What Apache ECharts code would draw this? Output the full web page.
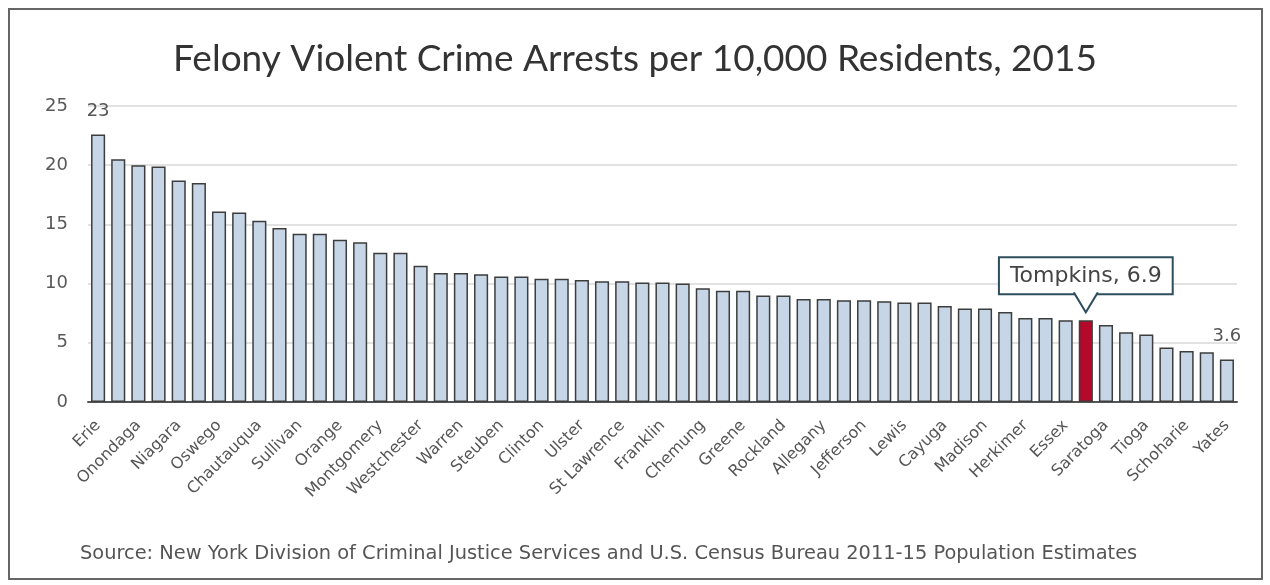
<!DOCTYPE html>
<html>
<head>
<meta charset="utf-8">
<script src="https://cdn.jsdelivr.net/npm/echarts@6/dist/echarts.min.js"></script>
<style>
html,body{margin:0;padding:0;background:#fff;}
#chart{width:1270px;height:585px;}
</style>
</head>
<body>
<div id="chart"></div>
<script>
const counties = ["Erie","Albany","Onondaga","Monroe","Niagara","Schenectady","Oswego","Broome","Chautauqua","Rensselaer","Sullivan","Oneida","Orange","Fulton","Montgomery","Cortland","Westchester","Chenango","Warren","Cattaraugus","Steuben","Orleans","Clinton","Dutchess","Ulster","Genesee","St Lawrence","Columbia","Franklin","Wayne","Chemung","Seneca","Greene","Wyoming","Rockland","Ontario","Allegany","Otsego","Jefferson","Suffolk","Lewis","Delaware","Cayuga","Washington","Madison","Livingston","Herkimer","Nassau","Essex","Tompkins","Saratoga","Schuyler","Tioga","Hamilton","Schoharie","Putnam","Yates"];
const rates = [22.6,20.5,20.0,19.9,18.7,18.5,16.1,16.0,15.3,14.7,14.2,14.2,13.7,13.5,12.6,12.6,11.5,10.9,10.9,10.8,10.6,10.6,10.4,10.4,10.3,10.2,10.2,10.1,10.1,10.0,9.6,9.4,9.4,9.0,9.0,8.7,8.7,8.6,8.6,8.5,8.4,8.4,8.1,7.9,7.9,7.6,7.1,7.1,6.9,6.9,6.5,5.9,5.7,4.6,4.3,4.2,3.6];
const yTicks = [0,5,10,15,20,25];
const highlight = "Tompkins";
const labelled = {"Erie":"23","Yates":"3.6"};
const titleText = "Felony Violent Crime Arrests per 10,000 Residents, 2015";
const sourceText = "Source: New York Division of Criminal Justice Services and U.S. Census Bureau 2011-15 Population Estimates";

const seriesData = counties.map((c, i) => {
  const item = {value: rates[i]};
  if (c === highlight) {
    item.itemStyle = {color: '#b5092c'};
    item.label = {show: true, position: 'top', distance: 27, formatter: c + ', ' + rates[i],
      color: '#444', fontSize: 22, fontFamily: 'DejaVu Sans', lineHeight: 25,
      backgroundColor: '#fff', borderColor: '#2e4d5e', borderWidth: 2, padding: [5, 10, 5, 10]};
  }
  if (labelled[c]) item.label = {show: true, position: 'top', distance: 14, formatter: labelled[c], color: '#555', fontSize: 18, fontFamily: 'DejaVu Sans'};
  return item;
});
const hIdx = counties.indexOf(highlight);

const chart = echarts.init(document.getElementById('chart'));
chart.setOption({
  animation: false,
  backgroundColor: '#fff',
  title: {
    text: titleText, left: 'center', top: 36,
    textStyle: {fontFamily: 'Lato', fontSize: 37, fontWeight: 'normal', color: '#333'}
  },
  grid: {left: 88, right: 33, top: 106, bottom: 183, containLabel: false},
  xAxis: {
    type: 'category', data: counties,
    axisLine: {lineStyle: {color: '#555', width: 2}},
    axisTick: {show: false},
    axisLabel: {interval: 1, rotate: 45, margin: 21, fontSize: 16, fontFamily: 'DejaVu Sans', color: '#555'}
  },
  yAxis: {
    type: 'value', min: 0, max: 25, interval: 5,
    axisLine: {show: false}, axisTick: {show: false},
    axisLabel: {margin: 20, fontSize: 18, fontFamily: 'DejaVu Sans', color: '#595959',
      formatter: v => yTicks.includes(v) ? String(v) : ''},
    splitLine: {lineStyle: {color: '#e2e2e2', width: 2}}
  },
  series: [{
    type: 'bar', data: seriesData, barWidth: '70%',
    itemStyle: {color: '#c6d6e7', borderColor: '#3d3d3d', borderWidth: 1.5},
    markPoint: {
      silent: true, z: 20,
      data: [{
        coord: [hIdx, rates[hIdx]],
        symbol: 'path://M0,0 L12,19 L24,0',
        symbolSize: [24, 20],
        symbolOffset: [0, -18],
        itemStyle: {color: '#fff', borderColor: '#2e4d5e', borderWidth: 2},
        label: {show: false}
      }]
    }
  }],
  graphic: [
    {type: 'rect', shape: {x: 9, y: 9, width: 1253, height: 570}, style: {fill: 'none', stroke: '#666', lineWidth: 2}, z: 0},
    {type: 'text', left: 80, top: 544, style: {text: sourceText, fontSize: 19.4, fontFamily: 'DejaVu Sans', fill: '#555'}}
  ]
});
</script>
</body>
</html>
